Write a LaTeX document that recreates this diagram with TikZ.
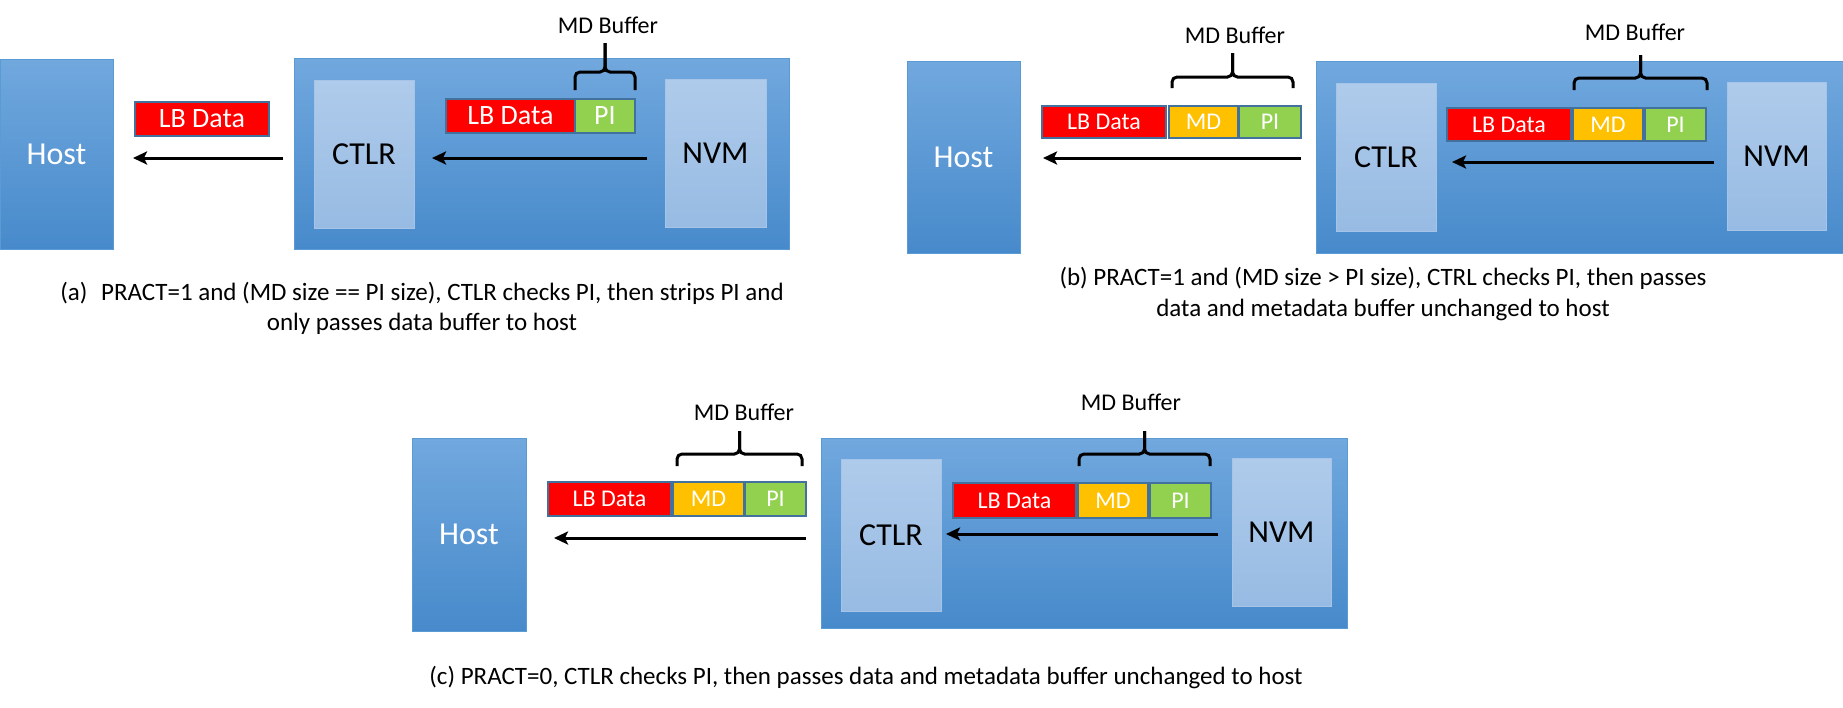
\documentclass[tikz,border=0pt]{standalone}
\usepackage{fontspec}
\setmainfont{Carlito}
\usetikzlibrary{arrows.meta}
\definecolor{boxtop}{HTML}{71A8DE}
\definecolor{boxbot}{HTML}{478ACB}
\definecolor{boxline}{HTML}{5B9BD5}
\definecolor{intop}{HTML}{AFCBEB}
\definecolor{inbot}{HTML}{97BBE3}
\definecolor{inline}{HTML}{A6C4E8}
\definecolor{cellline}{HTML}{41719C}
\definecolor{mdorange}{HTML}{FFC000}
\definecolor{pigreen}{HTML}{92D050}
\tikzset{
 bluebox/.style={rectangle, draw=boxline, line width=1pt, top color=boxtop, bottom color=boxbot, inner sep=0pt, outer sep=0pt, anchor=north west},
 hostbox/.style={bluebox, text=white, font=\fontsize{32}{38}\selectfont},
 innerbox/.style={rectangle, draw=inline, line width=1pt, top color=intop, bottom color=inbot, inner sep=0pt, outer sep=0pt, anchor=north west, text=black, font=\fontsize{32}{38}\selectfont},
 cell/.style={rectangle, draw=cellline, line width=2.2pt, inner sep=0pt, outer sep=0pt, anchor=north west, text=white, font=\fontsize{24}{28}\selectfont},
 bigtxt/.style={font=\fontsize{28}{32}\selectfont},
 lbcell/.style={cell, fill=red},
 mdcell/.style={cell, fill=mdorange},
 picell/.style={cell, fill=pigreen},
 flow/.style={line width=3pt, -{Stealth[length=14pt,width=13pt,inset=3pt]}},
 brc/.style={line width=3pt, rounded corners=5pt},
 lbl/.style={font=\fontsize{24}{28}\selectfont, inner sep=0pt},
 captxt/.style={font=\fontsize{25}{30}\selectfont, align=center, inner sep=0pt}
}
\newcommand\mdbrace[5]{%
 \draw[brc] (#1,#3) -- (#1,#4) -- ({(#1+#2)/2},#4) -- ({(#1+#2)/2},#5);
 \draw[brc] (#2,#3) -- (#2,#4) -- ({(#1+#2)/2},#4) -- ({(#1+#2)/2},#5);}
\begin{document}
\begin{tikzpicture}[x=1pt,y=-1pt]
\useasboundingbox (0,0) rectangle (1843,707);

% ---------------- (a) ----------------
\node[hostbox, minimum width=113pt, minimum height=190pt] (hostA) at (0,59) {Host};
\node[bluebox, minimum width=495pt, minimum height=191pt] (bigA) at (294,58) {};
\node[innerbox, minimum width=100pt, minimum height=148pt] (ctlrA) at (314,80) {CTLR};
\node[innerbox, minimum width=101pt, minimum height=148pt] (nvmA) at (665,79) {NVM};
\node[lbcell, bigtxt, minimum width=134pt, minimum height=34pt] (lbA1) at (135,102) {LB Data};
\node[lbcell, bigtxt, minimum width=129pt, minimum height=34pt] (lbA2) at (446,99) {LB Data};
\node[picell, bigtxt, minimum width=60pt, minimum height=34pt] (piA2) at (575,99) {PI};
\mdbrace{575}{635}{90}{72}{43}
\node[lbl] (mdbA) at (608,25) {MD Buffer};
\draw[flow, shorten <=18pt, shorten >=18pt] (nvmA.west |- 0,158) -- (ctlrA.east |- 0,158);
\draw[flow, shorten <=11pt, shorten >=20pt] (bigA.west |- 0,158) -- (hostA.east |- 0,158);
\node[captxt] (capA) at (422,308) {(a)\hspace{0.55em}PRACT=1 and (MD size == PI size), CTLR checks PI, then strips PI and\\only passes data buffer to host};

% ---------------- (b) ----------------
\node[hostbox, minimum width=113pt, minimum height=192pt] (hostB) at (907,61) {Host};
\node[bluebox, minimum width=530pt, minimum height=192pt] (bigB) at (1316,61) {};
\node[innerbox, minimum width=100pt, minimum height=148pt] (ctlrB) at (1336,83) {CTLR};
\node[innerbox, minimum width=99pt, minimum height=148pt] (nvmB) at (1727,82) {NVM};
\node[lbcell, minimum width=124pt, minimum height=32pt] (lbB1) at (1042,106) {LB Data};
\node[mdcell, minimum width=69pt, minimum height=32pt] (mdB1) at (1169,106) {MD};
\node[picell, minimum width=62pt, minimum height=32pt] (piB1) at (1239,106) {PI};
\mdbrace{1172}{1293}{88}{77}{53}
\node[lbl] (mdbB1) at (1235,35) {MD Buffer};
\node[lbcell, minimum width=124pt, minimum height=33pt] (lbB2) at (1447,108) {LB Data};
\node[mdcell, minimum width=70pt, minimum height=33pt] (mdB2) at (1573,108) {MD};
\node[picell, minimum width=61pt, minimum height=33pt] (piB2) at (1645,108) {PI};
\mdbrace{1574}{1707}{90}{78}{55}
\node[lbl] (mdbB2) at (1635,32) {MD Buffer};
\draw[flow, shorten <=13pt, shorten >=16pt] (nvmB.west |- 0,162) -- (ctlrB.east |- 0,162);
\draw[flow, shorten <=15pt, shorten >=23pt] (bigB.west |- 0,158) -- (hostB.east |- 0,158);
\node[captxt, font=\fontsize{25}{31}\selectfont] (capB) at (1383,294) {(b) PRACT=1 and (MD size > PI size), CTRL checks PI, then passes\\data and metadata buffer unchanged to host};

% ---------------- (c) ----------------
\node[hostbox, minimum width=114pt, minimum height=193pt] (hostC) at (412,438) {Host};
\node[bluebox, minimum width=526pt, minimum height=190pt] (bigC) at (821,438) {};
\node[innerbox, minimum width=100pt, minimum height=152pt] (ctlrC) at (841,459) {CTLR};
\node[innerbox, minimum width=99pt, minimum height=148pt] (nvmC) at (1232,458) {NVM};
\node[lbcell, minimum width=123pt, minimum height=34pt] (lbC1) at (548,482) {LB Data};
\node[mdcell, minimum width=71pt, minimum height=34pt] (mdC1) at (673,482) {MD};
\node[picell, minimum width=61pt, minimum height=34pt] (piC1) at (745,482) {PI};
\mdbrace{677}{802}{466}{454}{431}
\node[lbl] (mdbC1) at (744,412) {MD Buffer};
\node[lbcell, minimum width=123pt, minimum height=35pt] (lbC2) at (953,483) {LB Data};
\node[mdcell, minimum width=70pt, minimum height=35pt] (mdC2) at (1078,483) {MD};
\node[picell, minimum width=61pt, minimum height=35pt] (piC2) at (1150,483) {PI};
\mdbrace{1079}{1210}{466}{454}{431}
\node[lbl] (mdbC2) at (1131,402) {MD Buffer};
\draw[flow, shorten <=14pt, shorten >=5pt] (nvmC.west |- 0,534) -- (ctlrC.east |- 0,534);
\draw[flow, shorten <=15pt, shorten >=28pt] (bigC.west |- 0,538) -- (hostC.east |- 0,538);
\node[captxt] (capC) at (866,677) {(c) PRACT=0, CTLR checks PI, then passes data and metadata buffer unchanged to host};
\end{tikzpicture}
\end{document}
